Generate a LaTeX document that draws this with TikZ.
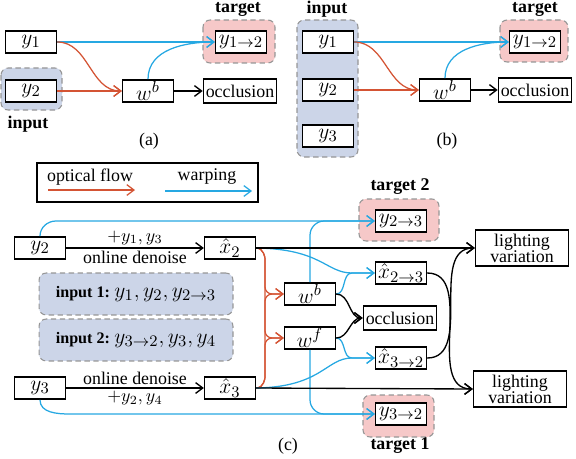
\documentclass[tikz,border=0pt]{standalone}
\usepackage{fontspec}
\setmainfont{Liberation Serif}
\usetikzlibrary{arrows.meta}

\definecolor{flowred}{RGB}{212,84,52}
\definecolor{warpblue}{RGB}{38,168,226}
\definecolor{tgtpink}{RGB}{246,200,200}
\definecolor{inblue}{RGB}{204,213,232}
\definecolor{bggray}{RGB}{150,150,150}

\tikzset{
  box/.style={draw, fill=white, line width=0.8pt, minimum width=28.5pt, minimum height=12.5pt, inner sep=0pt, font=\fontsize{12.5}{14}\selectfont},
  wordbox/.style={draw, fill=white, line width=0.8pt, minimum width=41pt, minimum height=13.5pt, inner sep=1pt},
  litbox/.style={draw, fill=white, line width=0.8pt, minimum width=52pt, minimum height=20pt, inner sep=0pt, align=center, font=\fontsize{10}{9}\selectfont},
  tgtbg/.style={fill=tgtpink, draw=bggray, densely dashed, line width=0.6pt, rounded corners=4pt},
  inbg/.style={fill=inblue, draw=bggray, densely dashed, line width=0.6pt, rounded corners=4pt},
  inbox/.style={inbg, minimum width=108.6pt, minimum height=23.5pt, inner sep=0pt},
  flow/.style={draw=flowred, line width=0.7pt, -{Straight Barb[length=4pt,width=6pt]}},
  warp/.style={draw=warpblue, line width=0.7pt, -{Straight Barb[length=4pt,width=6pt]}},
  plain/.style={draw=black, line width=0.75pt, -{Straight Barb[length=4pt,width=6pt]}},
  tag/.style={font=\bfseries},
  lbl/.style={inner sep=1.5pt},
}

\begin{document}
\begin{tikzpicture}[x=0.56pt,y=0.56pt]

    \useasboundingbox (0,0) rectangle (576,-458);

    % (a) one input frame
    \draw[tgtbg] (203,-20) rectangle (275,-63);
    \draw[inbg] (1,-68) rectangle (62,-110);

    \node[box] (ay1) at (31,-42) {$y_1$};
    \node[box] (ay2) at (31,-91) {$y_2$};
    \node[box] (awb) at (148,-91) {$w^b$};
    \node[wordbox] (aocc) at (240,-91) {occlusion};
    \node[box] (atgt) at (241,-42) {$y_{1\rightarrow2}$};
    \node[tag] at (238,-9) {target};
    \node[tag] at (28,-124) {input};
    \node at (149,-141) {(a)};

    \draw[warp] (ay1.east) -- (atgt.west);
    \draw[flow] (ay1.east) to[out=0,in=180] (awb.west);
    \draw[flow] (ay2.east) -- (awb.west);
    \draw[warp] (awb.north) to[out=90,in=180] (atgt.west);
    \draw[plain] (awb.east) -- (aocc.west);

    % (b) three input frames
    \draw[inbg] (297,-20) rectangle (358,-157);
    \draw[tgtbg] (500,-20) rectangle (568,-62);

    \node[box] (by1) at (328,-42) {$y_1$};
    \node[box] (by2) at (328,-90) {$y_2$};
    \node[box] (by3) at (328,-136) {$y_3$};
    \node[box] (bwb) at (445,-90) {$w^b$};
    \node[wordbox] (bocc) at (535,-90) {occlusion};
    \node[box] (btgt) at (535,-42) {$y_{1\rightarrow2}$};
    \node[tag] at (327,-9) {input};
    \node[tag] at (535,-9) {target};
    \node at (447,-141) {(b)};

    \draw[warp] (by1.east) -- (btgt.west);
    \draw[flow] (by1.east) to[out=0,in=180] (bwb.west);
    \draw[flow] (by2.east) -- (bwb.west);
    \draw[warp] (bwb.north) to[out=90,in=180] (btgt.west);
    \draw[plain] (bwb.east) -- (bocc.west);

    % (c) legend
    \draw[line width=0.8pt] (37,-163) rectangle (258,-202);
    \node (lgf) at (90,-177) {optical flow};
    \node (lgw) at (207,-177) {warping};
    \coordinate (lgf1) at (48,-190);
    \coordinate (lgf2) at (135,-190);
    \coordinate (lgw1) at (165,-191);
    \coordinate (lgw2) at (252,-191);
    \draw[flow] (lgf1) -- (lgf2);
    \draw[warp] (lgw1) -- (lgw2);

    % (c) targets
    \draw[tgtbg] (359,-199) rectangle (439,-241);
    \draw[tgtbg] (363,-395) rectangle (434,-437);
    \node[tag] at (400,-187) {target 2};
    \node[tag] at (400,-446) {target 1};

    % (c) frames and estimates
    \node[box] (y2) at (40,-248) {$y_2$};
    \node[box] (x2) at (230,-248) {$\hat{x}_2$};
    \node[box] (y3) at (40,-388) {$y_3$};
    \node[box] (x3) at (230,-388) {$\hat{x}_3$};
    \node[box] (wb) at (310,-294) {$w^b$};
    \node[box] (wf) at (310,-338) {$w^f$};
    \node[wordbox] (occ) at (400,-318) {occlusion};
    \node[box] (x23) at (401,-273) {$\hat{x}_{2\rightarrow3}$};
    \node[box] (x32) at (401,-358) {$\hat{x}_{3\rightarrow2}$};
    \node[box] (y23) at (401,-221) {$y_{2\rightarrow3}$};
    \node[box] (y32) at (401,-414) {$y_{3\rightarrow2}$};
    \node[litbox] (lt1) at (522,-248) {lighting\\variation};
    \node[litbox] (lt2) at (520,-389) {lighting\\variation};

    \node[inbox] (in1) at (136,-294)
      {{\fontsize{9}{10}\selectfont\bfseries input 1:}\ {\fontsize{13}{15}\selectfont$y_1, y_2, y_{2\rightarrow3}$}};
    \node[inbox] (in2) at (136,-340)
      {{\fontsize{9}{10}\selectfont\bfseries input 2:}\ {\fontsize{13}{15}\selectfont$y_{3\rightarrow2}, y_3, y_4$}};
    \node at (288,-446) {(c)};

    % denoising
    \draw[plain] (y2) -- node[lbl,above]{$+y_1, y_3$} node[lbl,below]{online denoise} (x2);
    \draw[plain] (y3) -- node[lbl,above]{online denoise} node[lbl,below]{$+y_2, y_4$} (x3);

    % optical flow
    \coordinate (rtop) at (265,-266);
    \coordinate (rbot) at (265,-370);
    \draw[flow, rounded corners=4pt] (x2.east) to[out=0,in=90] (rtop) |- (wb.west);
    \draw[flow, rounded corners=4pt] (x2.east) to[out=0,in=90] (rtop) |- (wf.west);
    \draw[flow, rounded corners=4pt] (x3.east) to[out=0,in=270] (rbot) |- (wf.west);
    \draw[flow, rounded corners=4pt] (x3.east) to[out=0,in=270] (rbot) |- (wb.west);

    % warping
    \coordinate (ytop) at (56,-221);
    \coordinate (ybot) at (70,-414);
    \coordinate (m23) at (352,-273);
    \coordinate (m32) at (352,-358);
    \draw[warp] (y2.north) to[out=90,in=180] (ytop) -- (y23.west);
    \draw[warp, rounded corners=8pt] (wb.north) |- (y23.west);
    \draw[warp] (y3.south) to[out=270,in=180] (ybot) -- (y32.west);
    \draw[warp, rounded corners=8pt] (wf.south) |- (y32.west);
    \draw[warp] (x2.east) .. controls (322,-249) and (326,-273) .. (m23) -- (x23.west);
    \draw[warp] (wb.east) to[out=0,in=180] (m23) -- (x23.west);
    \draw[warp] (x3.east) .. controls (322,-387) and (326,-358) .. (m32) -- (x32.west);
    \draw[warp] (wf.east) to[out=0,in=180] (m32) -- (x32.west);

    % occlusion and lighting
    \draw[plain] (wb.east) to[out=0,in=180] (occ.west);
    \draw[plain] (wf.east) to[out=0,in=180] (occ.west);
    \draw[plain] (x2.east) -- (lt1.west);
    \draw[plain] (x3.east) -- (lt2.west);
    \draw[plain] (x23.east) to[out=0,in=180] (lt2.west);
    \draw[plain] (x32.east) to[out=0,in=180] (lt1.west);

\end{tikzpicture}
\end{document}
